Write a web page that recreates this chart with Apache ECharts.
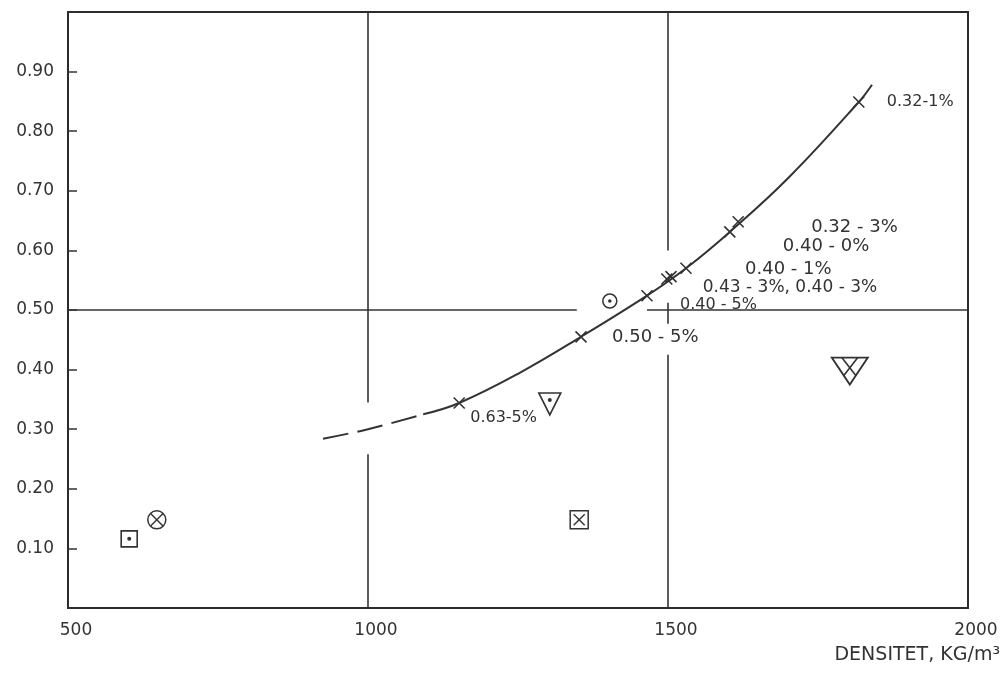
<!DOCTYPE html>
<html>
<head>
<meta charset="utf-8">
<script src="https://cdn.jsdelivr.net/npm/echarts@6/dist/echarts.min.js"></script>
<style>
  html, body { margin: 0; padding: 0; background: #ffffff; }
  #chart { width: 1008px; height: 684px; }
</style>
</head>
<body>
<div id="chart"></div>
<script>
// Axis ticks
const densityTicks = [500, 1000, 1500, 2000];
const valueTicks = [0.10, 0.20, 0.30, 0.40, 0.50, 0.60, 0.70, 0.80, 0.90];

// Mixes lying on the fitted curve (density, value, mix label)
const mixDensity = [1152, 1355, 1465, 1498, 1505, 1530, 1603, 1617, 1818];
const mixValue = [0.344, 0.455, 0.524, 0.552, 0.556, 0.570, 0.631, 0.648, 0.849];
const mixLabel = ['0.63-5%', '0.50 - 5%', '0.40 - 5%', '0.43 - 3%, 0.40 - 3%', '',
                  '0.40 - 1%', '0.40 - 0%', '0.32 - 3%', '0.32-1%'];

// Fitted curve: extrapolated part (dashed) and measured range (solid)
const curveDashedX = [925, 1000, 1092];
const curveDashedY = [0.284, 0.300, 0.325];
const curveSolidX = [1092, 1152, 1250, 1355, 1465, 1530, 1603, 1700, 1818, 1840];
const curveSolidY = [0.325, 0.344, 0.393, 0.455, 0.524, 0.570, 0.631, 0.721, 0.849, 0.878];

// Other specimens, each drawn with its own symbol
const otherDensity = [602, 648, 1303, 1352, 1403, 1803];
const otherValue = [0.116, 0.148, 0.344, 0.148, 0.515, 0.400];
const otherKind = ['squareDot', 'circleCross', 'triangleDot', 'squareCross', 'circleDot', 'triangleCross'];

// Reference lines at 1000, 1500 and 0.50, broken where marks and text pass
const guideX1 = [1000, 1000, 1500, 1500, 1500, 500, 1465];
const guideY1 = [1.0, 0.258, 1.0, 0.512, 0.425, 0.50, 0.50];
const guideX2 = [1000, 1000, 1500, 1500, 1500, 1348, 2000];
const guideY2 = [0.345, 0.0, 0.600, 0.477, 0.0, 0.50, 0.50];

// ---- drawing styles ----
const INK = '#333333';
const FONT = 'DejaVu Sans';
// label placement relative to its mark, in pixels (left edge, vertical middle)
const labelOffset = [[11, 15], [31, 1], [33, 9], [36, 9], null, [59, 1], [53, 14], [73, 6], [28, 0]];
const labelSize = [16, 18, 16, 17, 17, 18, 18, 18, 16];

function pair(xs, ys) { return xs.map((x, i) => [x, ys[i]]); }

function stroke(w) { return { stroke: INK, lineWidth: w || 1.5, fill: null }; }
function seg(x1, y1, x2, y2, w) {
  return { type: 'line', shape: { x1, y1, x2, y2 }, style: stroke(w) };
}
function cross(cx, cy, h, w) {
  return [seg(cx - h, cy - h, cx + h, cy + h, w), seg(cx - h, cy + h, cx + h, cy - h, w)];
}
function dot(cx, cy, r) {
  return { type: 'circle', shape: { cx, cy, r }, style: { fill: INK } };
}

function drawSymbol(kind, cx, cy) {
  switch (kind) {
    case 'circleDot':
      return [{ type: 'circle', shape: { cx, cy, r: 7 }, style: stroke(1.5) }, dot(cx, cy, 1.8)];
    case 'circleCross':
      return [{ type: 'circle', shape: { cx, cy, r: 9 }, style: stroke(1.5) }].concat(cross(cx, cy, 6.2, 1.4));
    case 'squareDot':
      return [{ type: 'rect', shape: { x: cx - 8, y: cy - 8, width: 16, height: 16 }, style: stroke(1.6) }, dot(cx, cy, 2)];
    case 'squareCross':
      return [{ type: 'rect', shape: { x: cx - 9, y: cy - 9, width: 18, height: 18 }, style: stroke(1.5) }]
        .concat(cross(cx, cy, 5.5, 1.4));
    case 'triangleDot':
      return [{ type: 'polygon', shape: { points: [[cx - 11, cy - 10], [cx + 11, cy - 10], [cx, cy + 12]] }, style: stroke(1.6) },
              dot(cx, cy - 3, 2)];
    case 'triangleCross':
      return [{ type: 'polygon', shape: { points: [[cx - 18, cy - 12], [cx + 18, cy - 12], [cx, cy + 15]] }, style: stroke(1.8) },
              seg(cx - 8, cy - 12, cx + 6, cy + 6, 1.6), seg(cx + 8, cy - 12, cx - 6, cy + 6, 1.6)];
  }
  return [];
}

const chart = echarts.init(document.getElementById('chart'), null, { renderer: 'canvas' });

const option = {
  animation: false,
  backgroundColor: '#ffffff',
  grid: {
    left: 68, right: 40, top: 12, bottom: 76,
    show: true, borderColor: '#2b2b2b', borderWidth: 2, backgroundColor: 'transparent'
  },
  xAxis: {
    type: 'value',
    min: densityTicks[0], max: densityTicks[densityTicks.length - 1], interval: 500,
    axisLine: { show: false },
    axisTick: { show: false },
    splitLine: { show: false },
    axisLabel: {
      color: INK, fontFamily: FONT, fontSize: 17, margin: 14, padding: [0, 0, 0, 16],
      formatter: v => densityTicks.includes(v) ? String(v) : ''
    },
    name: 'DENSITET, KG/m³',
    nameLocation: 'end',
    nameGap: 32,
    nameTextStyle: {
      color: INK, fontFamily: FONT, fontSize: 19,
      align: 'right', verticalAlign: 'top', padding: [38, 0, 0, 0]
    }
  },
  yAxis: {
    type: 'value',
    min: 0, max: 1.0, interval: 0.1,
    axisLine: { show: false },
    axisTick: { show: true, inside: true, length: 9, lineStyle: { color: INK, width: 1.5 } },
    splitLine: { show: false },
    axisLabel: {
      color: INK, fontFamily: FONT, fontSize: 17, margin: 14,
      formatter: v => {
        const t = valueTicks.find(k => Math.abs(k - v) < 1e-6);
        return t === undefined ? '' : t.toFixed(2);
      }
    }
  },
  series: [
    {
      // reference lines
      type: 'custom',
      silent: true,
      encode: { x: [0, 2], y: [1, 3] },
      data: guideX1.map((x, i) => [x, guideY1[i], guideX2[i], guideY2[i]]),
      renderItem: (params, api) => {
        const a = api.coord([api.value(0), api.value(1)]);
        const b = api.coord([api.value(2), api.value(3)]);
        return seg(a[0], a[1], b[0], b[1], 1.6);
      }
    },
    {
      type: 'line',
      data: pair(curveDashedX, curveDashedY),
      smooth: 0.4,
      showSymbol: false,
      silent: true,
      lineStyle: { color: INK, width: 2, type: [26, 9] }
    },
    {
      type: 'line',
      data: pair(curveSolidX, curveSolidY),
      smooth: 0.4,
      showSymbol: false,
      silent: true,
      lineStyle: { color: INK, width: 2 }
    },
    {
      // mixes on the curve with their labels
      type: 'custom',
      encode: { x: 0, y: 1 },
      data: pair(mixDensity, mixValue),
      renderItem: (params, api) => {
        const p = api.coord([api.value(0), api.value(1)]);
        const children = cross(p[0], p[1], 5.5, 1.6);
        const i = params.dataIndex;
        if (mixLabel[i] && labelOffset[i]) {
          children.push({
            type: 'text',
            x: p[0] + labelOffset[i][0],
            y: p[1] + labelOffset[i][1],
            style: {
              text: mixLabel[i], fill: INK,
              font: labelSize[i] + 'px "' + FONT + '"',
              align: 'left', verticalAlign: 'middle'
            }
          });
        }
        return { type: 'group', children };
      }
    },
    {
      // other specimens
      type: 'custom',
      encode: { x: 0, y: 1 },
      data: pair(otherDensity, otherValue),
      renderItem: (params, api) => {
        const p = api.coord([api.value(0), api.value(1)]);
        return { type: 'group', children: drawSymbol(otherKind[params.dataIndex], p[0], p[1]) };
      }
    }
  ]
};

chart.setOption(option);
</script>
</body>
</html>
